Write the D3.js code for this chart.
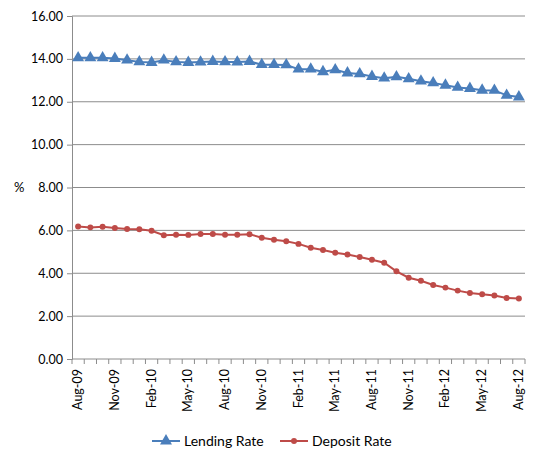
<!DOCTYPE html>
<html><head><meta charset="utf-8">
<script src="https://cdn.jsdelivr.net/npm/d3@7/dist/d3.min.js"></script>
<style>body{margin:0;background:#fff}text{font-family:Lato,"Open Sans",sans-serif;fill:#000}</style>
</head><body>
<script>
const months = ["Aug-09","Sep-09","Oct-09","Nov-09","Dec-09","Jan-10","Feb-10","Mar-10","Apr-10","May-10","Jun-10","Jul-10","Aug-10","Sep-10","Oct-10","Nov-10","Dec-10","Jan-11","Feb-11","Mar-11","Apr-11","May-11","Jun-11","Jul-11","Aug-11","Sep-11","Oct-11","Nov-11","Dec-11","Jan-12","Feb-12","Mar-12","Apr-12","May-12","Jun-12","Jul-12","Aug-12"];
const lendingRate = [14.05,14.05,14.05,14.02,13.94,13.86,13.83,13.94,13.86,13.83,13.85,13.88,13.86,13.85,13.88,13.73,13.73,13.72,13.52,13.52,13.40,13.49,13.34,13.30,13.18,13.10,13.16,13.07,12.96,12.88,12.77,12.67,12.62,12.54,12.53,12.30,12.22];
const depositRate = [6.18,6.14,6.17,6.11,6.06,6.05,5.98,5.77,5.80,5.79,5.83,5.83,5.80,5.80,5.82,5.66,5.56,5.49,5.37,5.19,5.08,4.96,4.87,4.76,4.63,4.49,4.09,3.79,3.65,3.45,3.33,3.19,3.08,3.02,2.96,2.85,2.82];
const yTicks = [0,2,4,6,8,10,12,14,16];
const xLabels = ["Aug-09","Nov-09","Feb-10","May-10","Aug-10","Nov-10","Feb-11","May-11","Aug-11","Nov-11","Feb-12","May-12","Aug-12"];
const seriesNames = ["Lending Rate","Deposit Rate"];

const W=535,H=454;
const svg=d3.select("body").append("svg").attr("width",W).attr("height",H);
const pl=72,pr=525,pt=16,pb=359;
const x=d3.scaleBand().domain(months).range([pl,pr]);
const y=d3.scaleLinear().domain([0,16]).range([pb,pt]);
const grid="#8c8c8c";

svg.append("g").selectAll("line").data(yTicks.filter(d=>d>0)).join("line")
  .attr("x1",pl).attr("x2",pr).attr("y1",d=>y(d)).attr("y2",d=>y(d))
  .attr("stroke",grid).attr("stroke-width",1);

const ya=svg.append("g").attr("transform",`translate(${pl},0)`)
  .call(d3.axisLeft(y).tickValues(yTicks).tickFormat(d3.format(".2f")).tickSize(5).tickPadding(4));
ya.select(".domain").attr("stroke",grid);
ya.selectAll(".tick line").attr("stroke",grid);
ya.selectAll("text").attr("font-size",12.5).style("font-family","Lato,'Open Sans',sans-serif");

const xa=svg.append("g").attr("transform",`translate(0,${pb})`);
xa.append("line").attr("x1",pl).attr("x2",pr).attr("stroke",grid);
xa.selectAll("line.t").data(months.concat(["end"])).join("line").attr("class","t")
  .attr("x1",(d,i)=>pl+i*x.bandwidth()).attr("x2",(d,i)=>pl+i*x.bandwidth())
  .attr("y1",0).attr("y2",5).attr("stroke",grid);
xa.selectAll("text").data(xLabels).join("text")
  .attr("transform",d=>`translate(${x(d)+x.bandwidth()/2+4},10) rotate(-90)`)
  .attr("text-anchor","end").attr("font-size",12.5).text(d=>d);

svg.append("text").attr("x",14).attr("y",192).attr("font-size",13).text("%");

const line=d3.line().x((d,i)=>x(months[i])+x.bandwidth()/2).y(d=>y(d));
const blue="#4a7ebb", red="#be4b48";
svg.append("path").datum(lendingRate).attr("d",line).attr("fill","none").attr("stroke",blue).attr("stroke-width",2);
svg.append("path").datum(depositRate).attr("d",line).attr("fill","none").attr("stroke",red).attr("stroke-width",2);
const tri=d3.symbol().type(d3.symbolTriangle).size(62);
const cir=d3.symbol().type(d3.symbolCircle).size(28);
svg.append("g").selectAll("path").data(lendingRate).join("path")
  .attr("d",tri).attr("fill",blue)
  .attr("transform",(d,i)=>`translate(${x(months[i])+x.bandwidth()/2},${y(d)})`);
svg.append("g").selectAll("path").data(depositRate).join("path")
  .attr("d",cir).attr("fill",red)
  .attr("transform",(d,i)=>`translate(${x(months[i])+x.bandwidth()/2},${y(d)})`);

const lg=svg.append("g");
const ly=441;
[[152,blue,tri,seriesNames[0]],[280,red,cir,seriesNames[1]]].forEach(([lx,c,s,n])=>{
  lg.append("line").attr("x1",lx).attr("x2",lx+28).attr("y1",ly).attr("y2",ly).attr("stroke",c).attr("stroke-width",2);
  lg.append("path").attr("d",s).attr("fill",c).attr("transform",`translate(${lx+14},${ly})`);
  lg.append("text").attr("x",lx+32).attr("y",ly+5).attr("font-size",14).text(n);
});
</script>
</body></html>
